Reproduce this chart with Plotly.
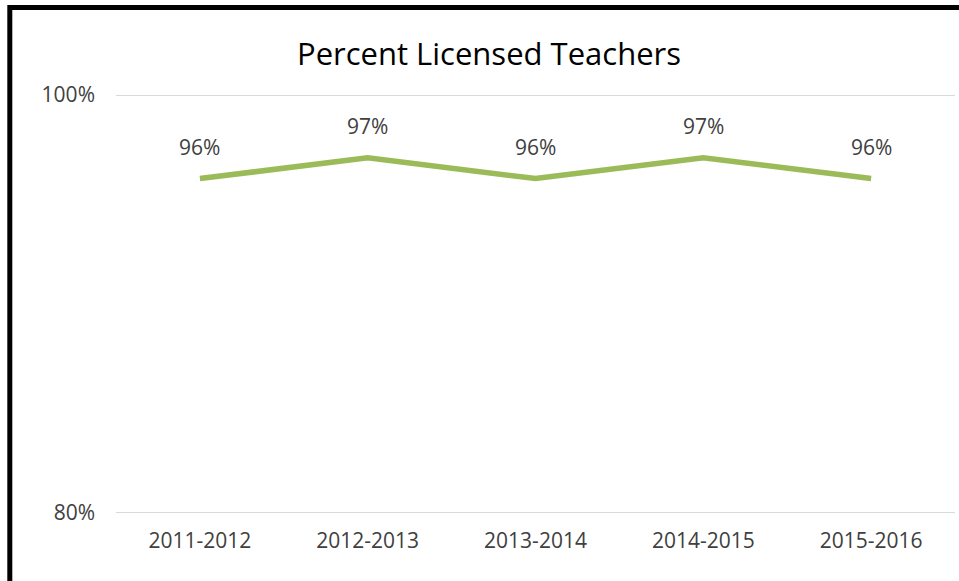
import plotly.graph_objects as go

years = ["2011-2012", "2012-2013", "2013-2014", "2014-2015", "2015-2016"]
pct = [96, 97, 96, 97, 96]
pct_labels = ["96%", "97%", "96%", "97%", "96%"]
y_ticks = [80, 100]
y_tick_text = ["80%", "100%"]

FONT = "Open Sans"
W, H = 959, 581
L, R, T, B = 116, 4, 95, 68
pw = W - L - R
ph = H - T - B

fig = go.Figure()
fig.add_trace(go.Scatter(
    x=years, y=pct, mode="lines",
    line=dict(color="#9BBB59", width=5.5),
    hoverinfo="skip", showlegend=False,
))
for xv, yv, t in zip(years, pct, pct_labels):
    fig.add_annotation(x=xv, y=yv, text=t, showarrow=False, yshift=32,
                       font=dict(family=FONT, size=21, color="#404040"))

def px_x(p):
    return (p - L) / pw

def px_y(p):
    return (H - B - p) / ph

shapes = [
    dict(type="line", xref="paper", yref="y", x0=0, x1=1, y0=v, y1=v,
         line=dict(color="#D9D9D9", width=2), layer="below")
    for v in y_ticks
]
shapes += [
    dict(type="line", xref="paper", yref="paper", x0=px_x(9.8), x1=px_x(962),
         y0=px_y(7.5), y1=px_y(7.5), line=dict(color="black", width=5)),
    dict(type="line", xref="paper", yref="paper", x0=px_x(9.8), x1=px_x(9.8),
         y0=px_y(5), y1=px_y(600), line=dict(color="black", width=5)),
]

fig.update_layout(
    width=W, height=H,
    margin=dict(l=L, r=R, t=T, b=B),
    paper_bgcolor="white", plot_bgcolor="white",
    font=dict(family=FONT, color="#404040"),
    title=dict(text="Percent Licensed Teachers", x=px_x(489), xref="paper",
               xanchor="center", y=1 - 54 / H, yanchor="middle",
               font=dict(family=FONT, size=31, color="#000000")),
    shapes=shapes,
    xaxis=dict(type="category", range=[-0.5, 4.5], showgrid=False, zeroline=False,
               showline=False, ticks="", tickfont=dict(size=21, color="#404040"),
               ticklabelstandoff=13, fixedrange=True),
    yaxis=dict(range=[80, 100], tickvals=y_ticks, ticktext=y_tick_text,
               showgrid=False, zeroline=False,
               showline=False, ticks="", tickfont=dict(size=21, color="#404040"),
               ticklabelstandoff=20, fixedrange=True),
)

fig.write_html("out.html", config={"displayModeBar": False},
               post_script="document.body.style.margin='0';")
